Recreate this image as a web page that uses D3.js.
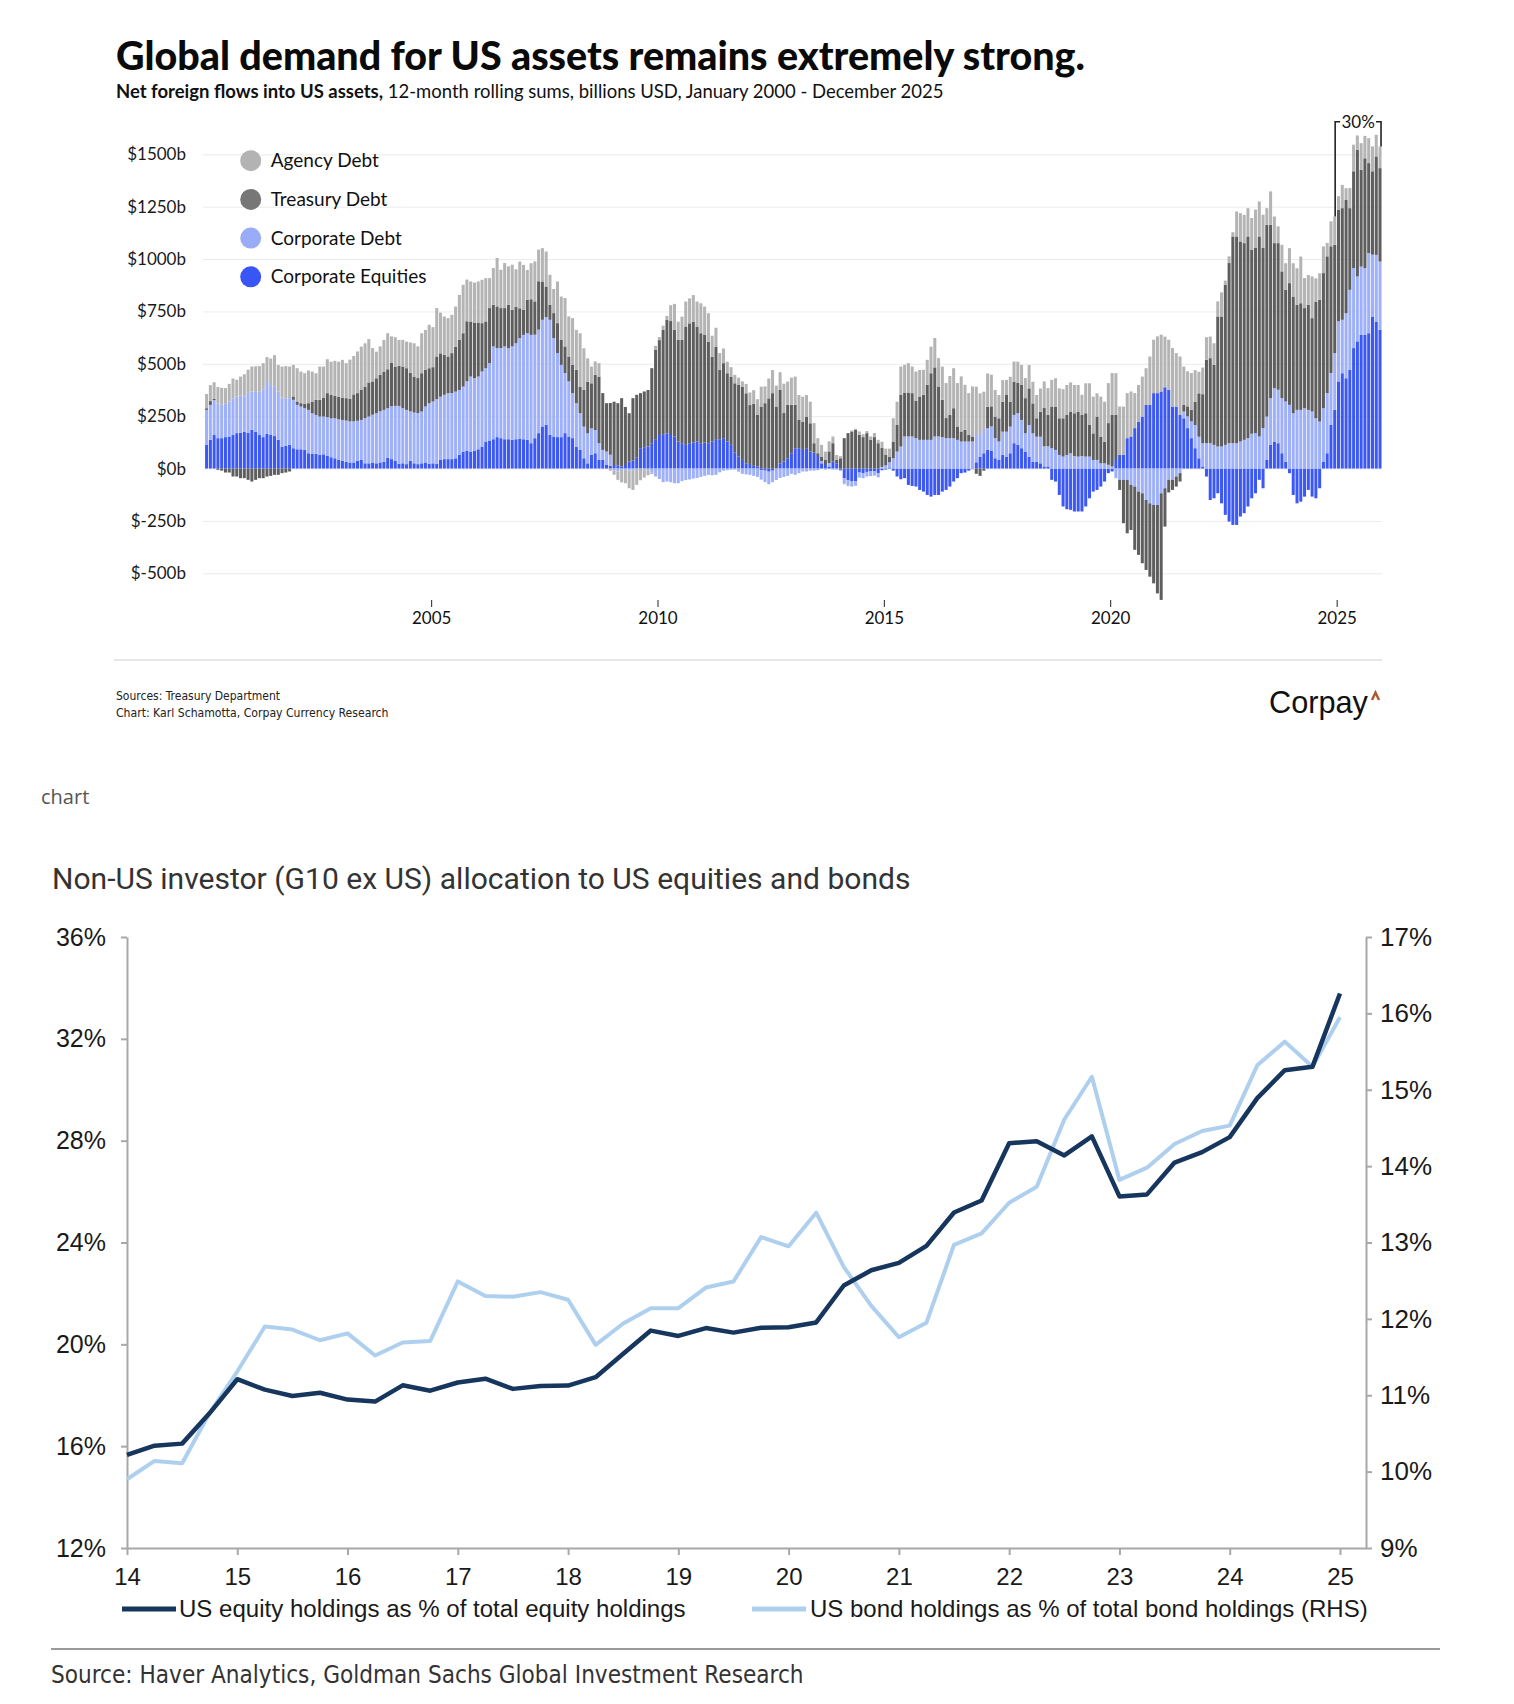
<!DOCTYPE html>
<html>
<head>
<meta charset="utf-8">
<script src="https://cdn.jsdelivr.net/npm/d3@7"></script>
<style>
  body { margin: 0; background: #fff; }
  svg { display: block; }
</style>
</head>
<body>
<svg id="page" width="1514" height="1704"></svg>
<script>
// ---- top chart data: 12-month rolling sums, billions USD, Jan 2000 - Dec 2025 (one row per year)
const equities = [
  113, 137, 160, 145, 145, 150, 153, 160, 169, 170, 175, 170,
  185, 175, 160, 150, 165, 160, 155, 137, 105, 108, 113, 97,
  92, 92, 89, 73, 70, 70, 65, 68, 60, 54, 49, 41,
  38, 32, 29, 29, 37, 41, 25, 25, 29, 25, 29, 33,
  52, 45, 38, 22, 25, 21, 37, 25, 21, 25, 29, 22,
  25, 22, 41, 45, 45, 45, 49, 65, 81, 86, 81, 86,
  92, 105, 129, 134, 140, 150, 145, 140, 140, 137, 140, 143,
  140, 137, 121, 145, 169, 201, 209, 161, 153, 150, 150, 169,
  153, 145, 105, 89, 49, 25, 65, 73, 41, 41, 17, 13,
  17, 14, 10, 17, 33, 38, 54, 97, 102, 105, 121, 140,
  160, 164, 168, 165, 153, 129, 121, 113, 121, 124, 129, 121,
  124, 121, 129, 137, 140, 145, 129, 113, 76, 57, 41, 25,
  22, 13, 10, -8, -10, -15, -10, 2, 25, 33, 49, 73,
  97, 97, 89, 97, 81, 76, 60, 25, 17, 10, 33, 25,
  -6, -46, -55, -62, -60, -19, -22, -16, -14, -14, -22, -8,
  -5, 5, -10, -38, -51, -46, -78, -83, -86, -102, -110, -126,
  -134, -126, -126, -110, -102, -86, -62, -46, -22, -19, -10, -3,
  30, 57, 73, 89, 86, 49, 41, 65, 57, 73, 121, 113,
  97, 81, 57, 33, 33, 25, 10, 10, -54, -62, -126, -181,
  -194, -197, -205, -205, -205, -181, -142, -110, -102, -86, -62, -22,
  -14, 41, 65, 65, 145, 153, 193, 224, 248, 304, 304, 360,
  360, 368, 388, 376, 296, 296, 256, 240, 193, 145, 97, 49,
  10, -38, -150, -142, -118, -166, -221, -253, -269, -269, -229, -213,
  -181, -142, -118, -54, -94, 41, 113, 129, 121, 73, 33, -22,
  -126, -166, -158, -134, -102, -134, -142, -94, 33, 73, 209, 280,
  416, 455, 431, 471, 575, 607, 638, 638, 646, 726, 702, 662
];
const corporateDebt = [
  167, 167, 167, 164, 160, 159, 167, 175, 175, 178, 170, 191,
  183, 191, 207, 226, 248, 238, 235, 230, 234, 227, 223, 231,
  212, 204, 199, 207, 194, 186, 183, 180, 185, 186, 191, 194,
  194, 197, 196, 196, 191, 191, 215, 223, 228, 239, 244, 247,
  236, 252, 261, 277, 263, 259, 236, 242, 244, 247, 267, 290,
  295, 309, 302, 307, 315, 315, 318, 310, 310, 330, 358, 345,
  347, 358, 350, 369, 443, 425, 430, 443, 435, 446, 458, 479,
  498, 509, 517, 494, 494, 509, 514, 549, 470, 401, 345, 287,
  263, 215, 207, 175, 151, 143, 127, 111, 80, 48, 64, 53,
  -10, -14, -6, -6, -10, -10, -3, -2, -5, -10, -20, -38,
  -50, -65, -62, -65, -70, -70, -60, -55, -52, -48, -45, -40,
  -35, -30, -32, -30, -18, -10, -8, -5, -5, -15, -25, -28,
  -30, -35, -40, -45, -55, -60, -55, -55, -45, -40, -35, -25,
  -30, -22, -14, -14, -10, -10, -8, 10, -5, 16, -5, -5,
  -5, -24, -24, -24, -22, -24, -24, -22, -22, -20, -20, 8,
  15, 25, 49, 81, 105, 153, 153, 153, 145, 137, 137, 137,
  137, 153, 153, 150, 145, 145, 145, 137, 129, 129, 129, 129,
  135, 103, 111, 103, 115, 96, 88, 111, 119, 127, 135, 151,
  135, 88, 151, 135, 119, 127, 96, 96, 97, 89, 65, 57,
  65, 73, 60, 57, 60, 57, 57, 41, 41, 25, 25, 18,
  10, -46, -54, -54, -54, -78, -86, -110, -118, -150, -166, -174,
  -174, -118, -94, -54, -54, -38, -22, 32, 56, 80, 111, 103,
  111, 121, 121, 113, 105, 105, 113, 121, 121, 121, 129, 137,
  145, 166, 169, 153, 193, 207, 223, 255, 255, 263, 287, 304,
  264, 280, 280, 288, 280, 272, 240, 224, 255, 287, 247, 271,
  287, 255, 310, 382, 382, 310, 326, 318, 382, 295, 318, 326
];
const treasuryDebt = [
  8, 18, 5, -6, -10, -19, -19, -38, -38, -46, -46, -54,
  -62, -54, -46, -46, -38, -35, -30, -30, -22, -19, -14, 16,
  16, 16, 21, 32, 56, 72, 80, 91, 115, 111, 107, 108,
  107, 107, 107, 129, 132, 143, 151, 163, 159, 167, 175, 183,
  186, 207, 188, 191, 199, 199, 183, 172, 167, 183, 175, 167,
  164, 204, 207, 191, 175, 191, 215, 239, 255, 287, 263, 266,
  258, 231, 223, 263, 199, 199, 191, 183, 207, 175, 175, 143,
  119, 159, 170, 159, 231, 183, 146, 72, 119, 143, 119, 127,
  119, 135, 159, 127, 175, 247, 215, 263, 318, 271, 231, 247,
  302, 298, 326, 277, 231, 298, 298, 263, 266, 270, 358, 426,
  453, 498, 541, 539, 509, 485, 493, 565, 572, 577, 549, 525,
  514, 485, 405, 445, 331, 358, 326, 326, 331, 342, 350, 334,
  281, 296, 246, 296, 312, 335, 360, 294, 350, 232, 256, 231,
  207, 135, 135, 151, 135, 45, 13, 22, 24, 56, 88, 16,
  49, 145, 169, 177, 185, 161, 150, 169, 137, 150, 121, 90,
  50, 25, 80, 127, 247, 210, 210, 207, 178, 207, 215, 263,
  318, 330, 239, 178, 96, 111, 143, 64, 48, 56, 32, 24,
  -25, -35, -10, 103, 96, 103, 111, 143, 175, 119, 159, 146,
  167, 167, 175, 143, 88, 119, 183, 151, 199, 207, 175, 183,
  191, 199, 204, 215, 196, 207, 151, 127, 207, 127, 103, 199,
  247, 215, -48, -207, -255, -215, -302, -302, -334, -334, -350, -374,
  -422, -509, -183, -60, -48, -48, -40, 32, 48, 56, 111, 207,
  234, 398, 406, 382, 621, 621, 764, 860, 987, 987, 955, 939,
  963, 879, 884, 955, 860, 915, 828, 692, 700, 605, 533, 581,
  557, 501, 509, 478, 501, 446, 557, 581, 645, 653, 605, 517,
  533, 533, 541, 390, 462, 605, 462, 525, 430, 398, 470, 446
];
const agencyDebt = [
  68, 76, 80, 80, 80, 75, 84, 95, 80, 91, 105, 111,
  119, 122, 122, 127, 119, 127, 151, 127, 148, 154, 151, 151,
  159, 151, 146, 156, 143, 127, 159, 148, 162, 159, 167, 167,
  180, 167, 188, 183, 199, 207, 207, 207, 159, 127, 135, 151,
  172, 127, 140, 124, 127, 127, 146, 159, 151, 191, 191, 207,
  191, 231, 194, 183, 183, 183, 191, 215, 231, 199, 191, 191,
  196, 207, 207, 143, 175, 231, 183, 215, 183, 215, 178, 223,
  215, 143, 172, 191, 151, 159, 167, 143, 115, 199, 207, 231,
  191, 223, 191, 255, 199, 111, 80, 64, 64, 0, 0, -10,
  -20, -40, -60, -64, -84, -92, -75, -54, -38, -22, -6, 20,
  15, 20, 20, 76, 124, 87, 111, 119, 119, 127, 119, 143,
  135, 135, 100, 90, 80, 70, 55, 45, 40, 35, 25, 45,
  60, 65, 75, 95, 80, 95, 110, 100, 85, 140, 110, 130,
  135, 119, 119, 103, 103, 96, 72, 56, 40, 48, 32, 24,
  10, -5, -5, 5, 5, 16, 14, 10, 16, 20, 16, 30,
  30, 40, 111, 111, 135, 132, 140, 127, 140, 127, 119, 119,
  127, 140, 135, 159, 167, 186, 191, 207, 263, 215, 199, 239,
  226, 199, 183, 159, 151, 127, 111, 103, 72, 119, 96, 100,
  96, 96, 111, 103, 111, 111, 127, 127, 127, 135, 143, 139,
  143, 139, 135, 127, 96, 143, 199, 175, 111, 191, 191, 191,
  199, 199, 231, 231, 215, 215, 167, 175, 191, 175, 231, 255,
  271, 271, 242, 239, 279, 255, 279, 183, 167, 175, 151, 103,
  127, 108, 103, 103, 72, 115, 20, 32, 20, 119, 135, 135,
  135, 151, 183, 167, 159, 80, 159, 127, 80, 127, 127, 167,
  159, 175, 223, 143, 143, 199, 111, 127, 127, 64, 119, 135,
  64, 111, 56, 96, 127, 68, 127, 107, 119, 119, 103, 103
];
const flowTicks = [-500, -250, 0, 250, 500, 750, 1000, 1250, 1500];
const flowYears = [2005, 2010, 2015, 2020, 2025];
const legendLabels = ['Agency Debt', 'Treasury Debt', 'Corporate Debt', 'Corporate Equities'];
const growthLabel = '30%';

// ---- bottom chart data: quarterly, 2014Q1 - 2025Q1
const equityShare = [
  15.66, 16.02, 16.10, 17.30, 18.63, 18.22, 17.97, 18.10, 17.83, 17.75,
  18.39, 18.18, 18.50, 18.65, 18.25, 18.36, 18.38, 18.71, 19.63, 20.54,
  20.33, 20.64, 20.46, 20.65, 20.67, 20.86, 22.31, 22.91, 23.20, 23.87,
  25.18, 25.65, 27.90, 27.98, 27.42, 28.17, 25.81, 25.89, 27.14, 27.55,
  28.14, 29.67, 30.77, 30.90, 33.78
];
const bondShare = [
  9.90, 10.14, 10.11, 10.77, 11.31, 11.90, 11.86, 11.72, 11.81, 11.52,
  11.69, 11.71, 12.49, 12.30, 12.29, 12.35, 12.25, 11.66, 11.94, 12.14,
  12.14, 12.41, 12.49, 13.07, 12.95, 13.39, 12.68, 12.17, 11.76, 11.95,
  12.97, 13.12, 13.52, 13.73, 14.61, 15.17, 13.82, 13.98, 14.29, 14.46,
  14.53, 15.32, 15.63, 15.30, 15.95
];
const equityTicks = [12, 16, 20, 24, 28, 32, 36];
const bondTicks = [9, 10, 11, 12, 13, 14, 15, 16, 17];
const yearTicks = [14, 15, 16, 17, 18, 19, 20, 21, 22, 23, 24, 25];
const shareLegend = ['US equity holdings as % of total equity holdings', 'US bond holdings as % of total bond holdings (RHS)'];

const svg = d3.select('#page');
svg.append('rect').attr('width', 1514).attr('height', 1704).attr('fill', '#fff');

// shrink or grow a text element's font so it spans the given width
function fitWidth(sel, target) {
  const w = sel.node().getComputedTextLength();
  if (w > 0) sel.attr('font-size', +sel.attr('font-size') * target / w);
}

const topFont = 'Lato, "Open Sans", sans-serif';
const narrowFont = '"Liberation Sans Narrow", "DejaVu Sans Condensed", "Roboto Condensed", sans-serif';

// ================= top chart =================
const topG = svg.append('g');

const title = topG.append('text')
  .attr('x', 116).attr('y', 70)
  .attr('font-family', topFont).attr('font-weight', 900).attr('font-size', 37)
  .attr('fill', '#0a0a0a')
  .text('Global demand for US assets remains extremely strong.');
fitWidth(title, 969);

const subtitle = topG.append('text')
  .attr('x', 116).attr('y', 98)
  .attr('font-family', topFont).attr('font-size', 17).attr('fill', '#111');
subtitle.append('tspan').attr('font-weight', 700).text('Net foreign flows into US assets,');
subtitle.append('tspan').text(' 12-month rolling sums, billions USD, January 2000 - December 2025');
fitWidth(subtitle, 828);

const seriesKeys = ['equities', 'corporateDebt', 'treasuryDebt', 'agencyDebt'];
const barColor = {
  equities: '#3b57f4',
  corporateDebt: '#9db0f9',
  treasuryDebt: '#5e5e5e',
  agencyDebt: '#b4b4b4'
};
const dotColor = ['#b3b3b3', '#777777', '#9aacf8', '#3a55f6'];

const months = d3.range(equities.length).map(i => new Date(2000, i, 1));
const rows = months.map((date, i) => ({
  date,
  equities: equities[i],
  corporateDebt: corporateDebt[i],
  treasuryDebt: treasuryDebt[i],
  agencyDebt: agencyDebt[i]
}));
const stacked = d3.stack().keys(seriesKeys).offset(d3.stackOffsetDiverging)(rows);

const flowX = d3.scaleTime()
  .domain([new Date(2000, 0, 1), new Date(2026, 0, 1)])
  .range([204.7, 1381.9]);
const flowBand = d3.scaleBand()
  .domain(d3.range(rows.length))
  .range(flowX.range())
  .paddingInner(0.2)
  .paddingOuter(0.1);
const flowY = d3.scaleLinear().domain([-500, 1500]).range([573.3, 154.3]);

// gridlines + y labels
const yAxisG = topG.append('g')
  .attr('transform', 'translate(203,0)')
  .call(d3.axisLeft(flowY).tickValues(flowTicks).tickFormat(d => `$${d}b`)
    .tickSize(-1179).tickPadding(17));
yAxisG.select('.domain').remove();
yAxisG.selectAll('line').attr('stroke', '#ececec');
yAxisG.selectAll('text')
  .attr('font-family', topFont).attr('font-size', 17).attr('fill', '#1a1a1a');

// stacked bars
topG.append('g').selectAll('g')
  .data(stacked)
  .join('g')
  .attr('fill', d => barColor[d.key])
  .selectAll('rect')
  .data(d => d)
  .join('rect')
  .attr('x', (d, i) => flowBand(i))
  .attr('width', flowBand.bandwidth())
  .attr('y', d => flowY(Math.max(d[0], d[1])))
  .attr('height', d => Math.abs(flowY(d[0]) - flowY(d[1])));

// x axis
const xAxisG = topG.append('g')
  .attr('transform', 'translate(0,600)')
  .call(d3.axisBottom(flowX)
    .tickValues(flowYears.map(y => new Date(y, 0, 1)))
    .tickFormat(d3.timeFormat('%Y'))
    .tickSize(7).tickSizeOuter(0).tickPadding(5));
xAxisG.select('.domain').remove();
xAxisG.selectAll('line').attr('stroke', '#222');
xAxisG.selectAll('text')
  .attr('font-family', topFont).attr('font-size', 17).attr('fill', '#111');

// legend
const legend = topG.append('g').attr('transform', 'translate(250.7,160.7)');
const legendRow = legend.selectAll('g')
  .data(legendLabels)
  .join('g')
  .attr('transform', (d, i) => `translate(0,${i * 38.7})`);
legendRow.append('circle').attr('r', 10.5).attr('fill', (d, i) => dotColor[i]);
legendRow.append('text')
  .attr('x', 20).attr('dy', '0.35em')
  .attr('font-family', topFont).attr('font-size', 19).attr('fill', '#111')
  .text(d => d);

// growth bracket from Dec 2024 to the latest month
const totalOf = i => d3.sum(seriesKeys, k => Math.max(0, rows[i][k]));
const fromIdx = months.findIndex(d => d.getFullYear() === 2024 && d.getMonth() === 11);
const toIdx = rows.length - 1;
const bracketTop = flowY(d3.max(rows, (r, i) => totalOf(i))) - 13;
const bx0 = flowX(new Date(2025, 0, 1)) - 1.5;
const bx1 = flowBand(toIdx) + flowBand.bandwidth() - 0.5;
const bracket = topG.append('g').attr('fill', 'none').attr('stroke', '#222').attr('stroke-width', 1.6);
bracket.append('path').attr('d', `M${bx0},${flowY(totalOf(fromIdx))}V${bracketTop}h5`);
bracket.append('path').attr('d', `M${bx1 - 5},${bracketTop}h5V${flowY(totalOf(toIdx))}`);
topG.append('text')
  .attr('x', (bx0 + bx1) / 2).attr('y', bracketTop).attr('dy', '0.35em')
  .attr('text-anchor', 'middle')
  .attr('font-family', topFont).attr('font-size', 17).attr('fill', '#111')
  .text(growthLabel);

// footer
topG.append('line')
  .attr('x1', 114).attr('x2', 1382).attr('y1', 660).attr('y2', 660)
  .attr('stroke', '#dedede').attr('stroke-width', 1.5);
topG.append('text')
  .attr('x', 116).attr('y', 700)
  .attr('font-family', narrowFont).attr('font-size', 12).attr('fill', '#222')
  .text('Sources: Treasury Department');
const credit = topG.append('text')
  .attr('x', 116).attr('y', 717)
  .attr('font-family', narrowFont).attr('font-size', 12).attr('fill', '#222')
  .text('Chart: Karl Schamotta, Corpay Currency Research');
fitWidth(credit, 273);
const logo = topG.append('text')
  .attr('x', 1269).attr('y', 713)
  .attr('font-family', '"Liberation Sans", Arial, sans-serif').attr('font-size', 29).attr('fill', '#111')
  .text('Corpay');
fitWidth(logo, 99);
topG.append('path')
  .attr('d', 'M1372,700L1375.5,692.5L1379,700')
  .attr('fill', 'none').attr('stroke', '#b0562e').attr('stroke-width', 2.4);

// ================= separator label =================
svg.append('text')
  .attr('x', 41).attr('y', 797).attr('dy', '0.35em')
  .attr('font-family', '"Open Sans", sans-serif').attr('font-size', 20).attr('fill', '#555')
  .text('chart');

// ================= bottom chart =================
const botG = svg.append('g');
const axisFont = '"Liberation Sans", Arial, sans-serif';

const botTitle = botG.append('text')
  .attr('x', 52).attr('y', 878).attr('dy', '0.35em')
  .attr('font-family', 'Roboto, "Noto Sans", sans-serif').attr('font-size', 28).attr('fill', '#333')
  .text('Non-US investor (G10 ex US) allocation to US equities and bonds');
fitWidth(botTitle, 859);

const quarters = d3.range(equityShare.length).map(i => 14 + i / 4);
const shareX = d3.scaleLinear().domain([14, 25.236]).range([127, 1366]);
const equityY = d3.scaleLinear().domain([12, 36]).range([1548, 937]);
const bondY = d3.scaleLinear().domain([9, 17]).range([1548, 937]);

function styleAxis(g, size) {
  g.selectAll('.domain, line').attr('stroke', '#a8a8a8').attr('stroke-width', 2);
  g.selectAll('text').attr('font-family', axisFont).attr('font-size', size).attr('fill', '#1a1a1a');
}

botG.append('g')
  .attr('transform', 'translate(127,0)')
  .call(d3.axisLeft(equityY).tickValues(equityTicks).tickFormat(d => d + '%')
    .tickSize(6).tickSizeOuter(0).tickPadding(15))
  .call(styleAxis, 25);

botG.append('g')
  .attr('transform', 'translate(1366,0)')
  .call(d3.axisRight(bondY).tickValues(bondTicks).tickFormat(d => d + '%')
    .tickSize(6).tickSizeOuter(0).tickPadding(8))
  .call(styleAxis, 26);

botG.append('g')
  .attr('transform', 'translate(0,1548)')
  .call(d3.axisBottom(shareX).tickValues(yearTicks).tickFormat(d => d)
    .tickSize(7).tickSizeOuter(0).tickPadding(13))
  .call(styleAxis, 24);

const bondLine = d3.line().x((d, i) => shareX(quarters[i])).y(d => bondY(d));
const equityLine = d3.line().x((d, i) => shareX(quarters[i])).y(d => equityY(d));

botG.append('path')
  .attr('d', bondLine(bondShare))
  .attr('fill', 'none').attr('stroke', '#aed0ee').attr('stroke-width', 4).attr('stroke-linejoin', 'round');
botG.append('path')
  .attr('d', equityLine(equityShare))
  .attr('fill', 'none').attr('stroke', '#17365d').attr('stroke-width', 4.5).attr('stroke-linejoin', 'round');

// legend
const shareLegendPos = [
  { x0: 122, x1: 176, tx: 179, w: 507, color: '#17365d' },
  { x0: 752, x1: 806, tx: 810, w: 558, color: '#aed0ee' }
];
shareLegend.forEach((label, i) => {
  const p = shareLegendPos[i];
  botG.append('line')
    .attr('x1', p.x0).attr('x2', p.x1).attr('y1', 1609).attr('y2', 1609)
    .attr('stroke', p.color).attr('stroke-width', 5);
  const t = botG.append('text')
    .attr('x', p.tx).attr('y', 1609).attr('dy', '0.35em')
    .attr('font-family', axisFont).attr('font-size', 23).attr('fill', '#1a1a1a')
    .text(label);
  fitWidth(t, p.w);
});

botG.append('line')
  .attr('x1', 51).attr('x2', 1440).attr('y1', 1649).attr('y2', 1649)
  .attr('stroke', '#9a9a9a').attr('stroke-width', 2);
const source = botG.append('text')
  .attr('x', 51).attr('y', 1675).attr('dy', '0.35em')
  .attr('font-family', narrowFont).attr('font-size', 24).attr('fill', '#333')
  .text('Source: Haver Analytics, Goldman Sachs Global Investment Research');
fitWidth(source, 753);
</script>
</body>
</html>
